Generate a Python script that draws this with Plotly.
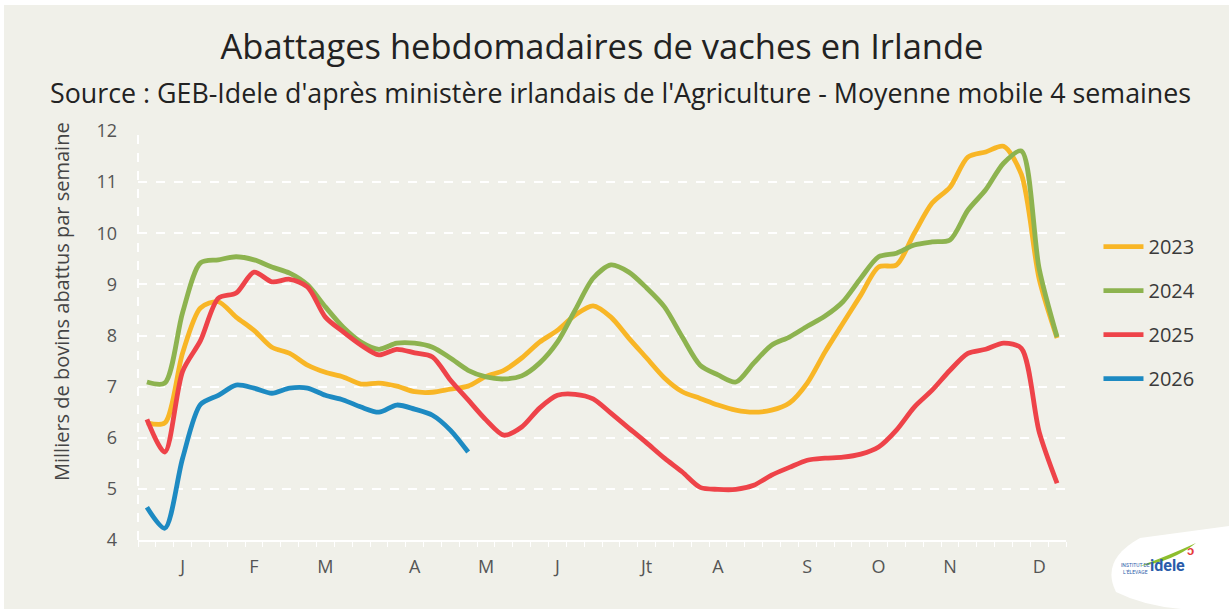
import plotly.graph_objects as go

weeks = list(range(1, 53))
month_ticks = [3, 7, 11, 16, 20, 24, 29, 33, 38, 42, 46, 51]
month_labels = ["J", "F", "M", "A", "M", "J", "Jt", "A", "S", "O", "N", "D"]

y2023 = [6.29, 6.29, 7.66, 8.54, 8.66, 8.36, 8.10, 7.77, 7.65, 7.42, 7.28, 7.19, 7.05,
         7.07, 7.01, 6.90, 6.89, 6.95, 7.01, 7.20, 7.32, 7.56, 7.87, 8.10, 8.40, 8.58,
         8.36, 7.95, 7.56, 7.17, 6.90, 6.77, 6.64, 6.54, 6.50, 6.54, 6.68, 7.07, 7.68,
         8.24, 8.79, 9.34, 9.38, 10.00, 10.59, 10.90, 11.49, 11.59, 11.70, 11.15, 9.10, 7.95]
y2024 = [7.09, 7.07, 8.45, 9.42, 9.48, 9.54, 9.48, 9.34, 9.22, 8.99, 8.56, 8.16, 7.87,
         7.73, 7.85, 7.85, 7.77, 7.56, 7.32, 7.19, 7.15, 7.21, 7.46, 7.87, 8.50, 9.12,
         9.38, 9.24, 8.93, 8.56, 7.97, 7.42, 7.23, 7.09, 7.46, 7.81, 7.97, 8.18, 8.38,
         8.66, 9.12, 9.54, 9.61, 9.77, 9.83, 9.87, 10.45, 10.85, 11.37, 11.61, 9.30, 7.97]
y2025 = [6.36, 5.72, 7.30, 7.90, 8.73, 8.83, 9.24, 9.05, 9.10, 8.95, 8.36, 8.07, 7.81,
         7.62, 7.73, 7.66, 7.58, 7.13, 6.74, 6.35, 6.05, 6.21, 6.58, 6.83, 6.85, 6.76,
         6.48, 6.19, 5.90, 5.60, 5.33, 5.03, 4.99, 4.99, 5.07, 5.27, 5.42, 5.56, 5.60,
         5.62, 5.68, 5.82, 6.15, 6.60, 6.93, 7.32, 7.65, 7.73, 7.85, 7.75, 6.11, 5.11]
y2026 = [4.64, 4.23, 5.60, 6.65, 6.83, 7.03, 6.97, 6.87, 6.97, 6.97, 6.83, 6.74, 6.60,
         6.50, 6.64, 6.56, 6.44, 6.15, 5.72]

series = [
    ("2023", y2023, "#F8B626"),
    ("2024", y2024, "#8DB34F"),
    ("2025", y2025, "#EE4349"),
    ("2026", y2026, "#1D8AC2"),
]

BG = "#F0F0E9"
TXT = "#4a4a4a"

# plot area in pixels (used for paper-coordinate helpers)
L, R, T, B = 138, 1066, 131, 540
W, H = 1229, 609


def px(x):
    return (x - L) / (R - L)


def py(y):
    return (B - y) / (B - T)


fig = go.Figure()
for name, vals, col in series:
    fig.add_trace(go.Scatter(
        x=weeks[:len(vals)], y=vals, name=name, mode="lines",
        line=dict(color=col, width=4.8, shape="spline", smoothing=0.8),
        legendgroup=name,
    ))

fig.update_layout(
    width=W, height=H,
    paper_bgcolor="white", plot_bgcolor=BG,
    margin=dict(l=L, r=W - R, t=T, b=H - B),
    font=dict(family="Open Sans, Lato, sans-serif", color=TXT),
    title=dict(
        text="Abattages hebdomadaires de vaches en Irlande",
        x=0.5, xanchor="center", xref="paper", y=1 - 47 / H, yanchor="middle",
        font=dict(family="Open Sans, Lato, sans-serif", size=34.5, color="#222222"),
    ),
    legend=dict(
        x=1.035, y=0.765, xanchor="left", yanchor="top",
        font=dict(size=20, color="#3a3a3a"), bgcolor="rgba(0,0,0,0)",
        traceorder="grouped", tracegroupgap=15, itemwidth=40,
    ),
    showlegend=True,
)

fig.update_xaxes(
    range=[0.5, 52.5], tickmode="array", tickvals=month_ticks, ticktext=month_labels,
    showgrid=False, zeroline=False, showline=True, linecolor="white", linewidth=2,
    ticks="", ticklabelstandoff=9, tickfont=dict(size=18, color="#555555"),
    minor=dict(ticks="outside", tick0=0.5, dtick=1, ticklen=5, tickcolor="white", tickwidth=1),
)
fig.update_yaxes(
    range=[4, 12], dtick=1, showgrid=True, gridcolor="white", gridwidth=2, griddash="dash",
    zeroline=False, showline=False, ticks="", ticklabelstandoff=20,
    tickfont=dict(size=18, color="#555555"),
)

# y-axis title (placed as in the reference, above the plot centre)
fig.add_annotation(text="Milliers de bovins abattus par semaine", textangle=-90,
                   xref="paper", yref="paper", x=px(61), y=py(302),
                   xanchor="center", yanchor="middle", showarrow=False,
                   font=dict(family="Open Sans, Lato, sans-serif", size=20, color="#444444"))

# beige card background (white border top/left)
fig.add_shape(type="rect", xref="paper", yref="paper", layer="below",
              x0=px(4), x1=px(W + 2), y0=py(H + 2), y1=py(5),
              fillcolor=BG, line=dict(width=0))
# dashed left frame line
fig.add_shape(type="line", xref="x domain", yref="y domain", x0=0, x1=0, y0=0, y1=1,
              line=dict(color="white", width=2, dash="dash"))

fig.add_annotation(
    text="Source : GEB-Idele d'après ministère irlandais de l'Agriculture - Moyenne mobile 4 semaines",
    xref="paper", yref="paper", x=px(620), y=py(92),
    xanchor="center", yanchor="middle", showarrow=False,
    font=dict(family="Open Sans, Lato, sans-serif", size=26.8, color="#222222"),
)

# logo
fig.add_shape(type="path", xref="paper", yref="paper",
              path="M {0} {1} Q {2} {3} {4} {5} L {6} {7} L {8} {9} Q {10} {11} {0} {1} Z".format(
                  px(1116), py(592), px(1100), py(560), px(1140), py(538),
                  px(1229), py(526), px(1229), py(609), px(1160), py(614)),
              fillcolor="white", line=dict(width=0), layer="above")
fig.add_shape(type="path", xref="paper", yref="paper",
              path="M {0} {1} Q {2} {3} {4} {5} Q {6} {7} {0} {1} Z".format(
                  px(1140), py(566), px(1170), py(555), px(1196), py(543),
                  px(1172), py(562)),
              fillcolor="#8DBE2E", line=dict(width=0), layer="above")
fig.add_annotation(text="<b>idele</b>", xref="paper", yref="paper",
                   x=px(1187), y=py(577), showarrow=False,
                   font=dict(family="Roboto, sans-serif", size=16, color="#2A5CAA"))
fig.add_annotation(text="INSTITUT DE<br>L'ÉLEVAGE", xref="paper", yref="paper",
                   x=px(1152), y=py(577), showarrow=False,
                   font=dict(family="Roboto, sans-serif", size=5, color="#2A5CAA"))
fig.add_annotation(text="<b>ɔ</b>", xref="paper", yref="paper",
                   x=px(1196), y=py(560), showarrow=False,
                   font=dict(family="Roboto, sans-serif", size=13, color="#E63A3A"))

fig.write_html("out.html", config={"displayModeBar": False},
               post_script="document.body.style.margin='0px';document.body.style.overflow='hidden';")
